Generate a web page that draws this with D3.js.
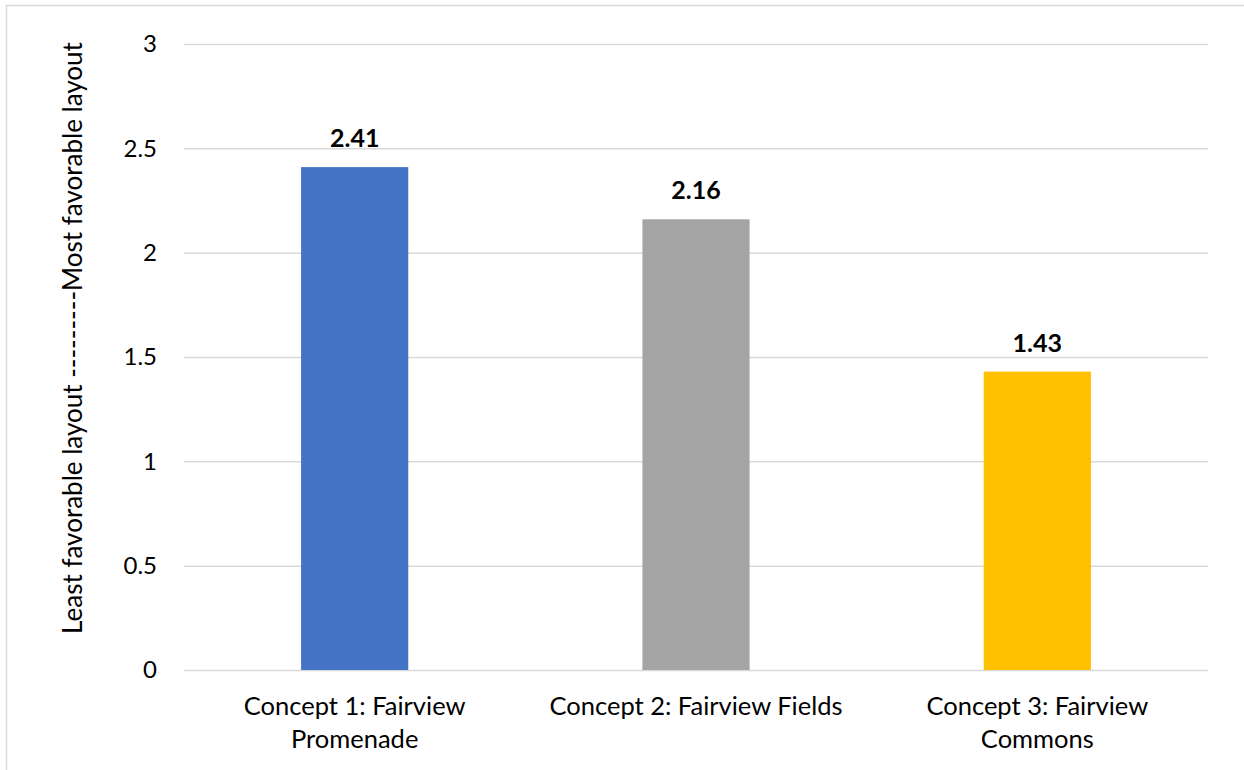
<!DOCTYPE html>
<html>
<head>
<meta charset="utf-8">
<script src="https://cdn.jsdelivr.net/npm/d3@7"></script>
<style>
  html, body { margin: 0; padding: 0; background: #fff; }
  svg { display: block; }
  text { font-family: Lato, "Open Sans", sans-serif; fill: #000; }
</style>
</head>
<body>
<svg id="chart" width="1244" height="770"></svg>
<script>
// Average rating of each layout concept
const categories = ["Concept 1: Fairview Promenade", "Concept 2: Fairview Fields", "Concept 3: Fairview Commons"];
const categoryLines = [["Concept 1: Fairview", "Promenade"], ["Concept 2: Fairview Fields"], ["Concept 3: Fairview", "Commons"]];
const values = [2.41, 2.16, 1.43];
const barColors = ["#4472C4", "#A5A5A5", "#FFC000"];
const yTicks = [0, 0.5, 1, 1.5, 2, 2.5, 3];
const yTitle = "Least favorable layout ---------Most favorable layout";

const svg = d3.select("#chart");
const plot = { left: 184, right: 1208, top: 44, bottom: 670 };

// Chart frame
svg.append("rect")
  .attr("x", 6.5).attr("y", 5.5)
  .attr("width", 1260).attr("height", 800)
  .attr("fill", "none").attr("stroke", "#D9D9D9").attr("stroke-width", 1.5);

const x = d3.scaleBand()
  .domain(categories)
  .range([plot.left, plot.right])
  .paddingInner(0.686)
  .paddingOuter(0.343);

const y = d3.scaleLinear()
  .domain([0, 3])
  .range([plot.bottom, plot.top]);

// Gridlines and tick labels
const yAxis = d3.axisLeft(y)
  .tickValues(yTicks)
  .tickFormat(d3.format("~g"))
  .tickSize(-(plot.right - plot.left))
  .tickPadding(27);

const gy = svg.append("g")
  .attr("transform", `translate(${plot.left},0)`)
  .call(yAxis);
gy.select(".domain").remove();
gy.selectAll(".tick line").attr("stroke", "#D9D9D9").attr("stroke-width", 1.5);
gy.selectAll(".tick text")
  .attr("font-size", 24)
  .attr("font-family", "Lato, 'Open Sans', sans-serif")
  .attr("fill", "#000");

// Bars
svg.append("g").selectAll("rect")
  .data(values)
  .join("rect")
  .attr("x", (d, i) => x(categories[i]))
  .attr("y", d => y(d))
  .attr("width", x.bandwidth())
  .attr("height", d => y(0) - y(d))
  .attr("fill", (d, i) => barColors[i]);

// Value labels
svg.append("g").selectAll("text")
  .data(values)
  .join("text")
  .attr("x", (d, i) => x(categories[i]) + x.bandwidth() / 2)
  .attr("y", d => y(d) - 20)
  .attr("text-anchor", "middle")
  .attr("font-size", 25)
  .attr("font-weight", "bold")
  .text(d => d3.format(".2f")(d));

// Category labels
const cat = svg.append("g").selectAll("text")
  .data(categories)
  .join("text")
  .attr("text-anchor", "middle")
  .attr("font-size", 25.5);
cat.each(function(d, i) {
  const cx = x(d) + x.bandwidth() / 2;
  d3.select(this).selectAll("tspan")
    .data(categoryLines[i])
    .join("tspan")
    .attr("x", cx)
    .attr("y", (t, j) => 715 + j * 33)
    .text(t => t);
});

// Axis title
svg.append("text")
  .attr("transform", `translate(82,338) rotate(-90)`)
  .attr("text-anchor", "middle")
  .attr("font-size", 26)
  .text(yTitle);
</script>
</body>
</html>
